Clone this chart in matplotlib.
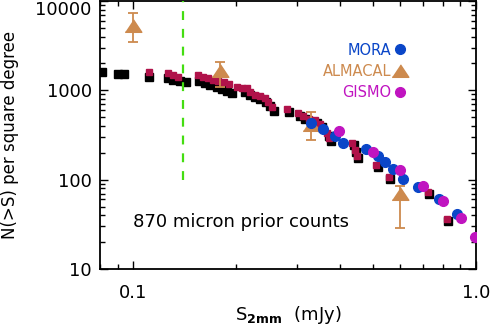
import numpy as np
import matplotlib
matplotlib.use('Agg')
import matplotlib.pyplot as plt
from matplotlib.ticker import LogLocator, NullFormatter

plt.rcParams['font.family'] = ['DejaVu Sans']
plt.rcParams['mathtext.fontset'] = 'dejavusans'

# 870 micron prior counts (black under, crimson on top)
black_s = [0.081, 0.090, 0.094, 0.111, 0.126, 0.131, 0.137, 0.143, 0.156, 0.162,
           0.168, 0.175, 0.181, 0.188, 0.194, 0.212, 0.219, 0.227, 0.235, 0.244,
           0.251, 0.258, 0.285, 0.307, 0.317, 0.330, 0.344, 0.356, 0.373, 0.378,
           0.440, 0.448, 0.454, 0.516, 0.563, 0.731, 0.830]
black_n = [1591, 1511, 1511, 1398, 1363, 1294, 1261, 1229, 1261, 1198,
           1138, 1080, 1026, 974, 926, 950, 879, 835, 793, 734,
           662, 582, 567, 511, 473, 438, 427, 385, 305, 268,
           245, 204, 177, 139, 101, 69, 34.5]
red_s = [0.111, 0.126, 0.131, 0.135, 0.155, 0.160, 0.165, 0.171, 0.177, 0.184,
         0.190, 0.201, 0.208, 0.215, 0.219, 0.227, 0.235, 0.243, 0.248, 0.254,
         0.281, 0.303, 0.313, 0.326, 0.339, 0.351, 0.368, 0.373, 0.435, 0.444,
         0.450, 0.511, 0.558, 0.725, 0.823]
red_n = [1591, 1550, 1472, 1398, 1472, 1398, 1363, 1294, 1261, 1229,
         1167, 1080, 1053, 1053, 950, 879, 857, 814, 734, 645,
         613, 553, 511, 473, 461, 416, 330, 290, 255, 213,
         182, 145, 106, 72, 35.9]

# MORA
mora_s = [0.330, 0.358, 0.388, 0.410, 0.478, 0.518, 0.543, 0.573, 0.613, 0.678, 0.780, 0.881]
mora_n = [427, 366, 305, 255, 218, 182, 156, 130, 103, 82, 60, 40.9]

# GISMO
gismo_s = [0.399, 0.501, 0.600, 0.701, 0.802, 0.904, 0.993]
gismo_n = [347, 202, 127, 86, 57, 36.9, 22.6]

# ALMACAL with error bars
alma_s = [0.100, 0.179, 0.330, 0.600]
alma_n = [5200, 1633, 405, 70]
alma_lo = [3440, 1080, 275, 28.5]
alma_hi = [7280, 2060, 567, 84]

c_red = '#b0124a'
c_mora = '#0a46c8'
c_alma = '#cd8a4e'
c_gismo = '#c014c0'
c_green = '#44dd11'

tri = [(-1, -0.7), (1, -0.7), (0, 0.8)]

fig = plt.figure(figsize=(4.91, 3.32), dpi=100)
ax = fig.add_axes([100/491, 1 - 269/332, 376/491, 268/332])
ax.set_xscale('log')
ax.set_yscale('log')
ax.set_xlim(0.08, 1.0)
ax.set_ylim(10, 10000)

ax.plot(black_s, black_n, ls='none', marker='s', ms=6.4, color='black', mec='black', zorder=2)
ax.plot(red_s, red_n, ls='none', marker='s', ms=4.9, color=c_red, mec=c_red, zorder=3)

ax.axvline(0.14, ymin=(np.log10(100) - 1) / 3, ymax=1, color=c_green, lw=1.6,
           dashes=(4, 4), zorder=4)

err = [np.array(alma_n) - np.array(alma_lo), np.array(alma_hi) - np.array(alma_n)]
ax.errorbar(alma_s, alma_n, yerr=err, fmt='none', ecolor=c_alma, elinewidth=1.3,
            capsize=3.5, capthick=1.3, zorder=4)
h_alma, = ax.plot(alma_s, alma_n, ls='none', marker=tri, ms=12, color=c_alma, zorder=5)
h_mora, = ax.plot(mora_s, mora_n, ls='none', marker='o', ms=7, color=c_mora, zorder=6)
h_gismo, = ax.plot(gismo_s, gismo_n, ls='none', marker='o', ms=7, color=c_gismo, zorder=7)

ax.legend([h_mora, h_alma, h_gismo], ['MORA', 'ALMACAL', 'GISMO'],
          loc='upper right', bbox_to_anchor=(0.817, 0.845), borderaxespad=0,
          borderpad=0, frameon=False, markerfirst=False, handlelength=1.0,
          handletextpad=0.1, labelspacing=0.42, fontsize=10.5,
          labelcolor=[c_mora, c_alma, c_gismo], numpoints=1)

ax.text(0.1, 34, '870 micron prior counts', fontsize=13, va='center', ha='left')

ax.set_xticks([0.1, 1.0])
ax.set_xticklabels(['0.1', '1.0'])
ax.xaxis.set_minor_locator(LogLocator(base=10, subs=np.arange(2, 10)))
ax.xaxis.set_minor_formatter(NullFormatter())
ax.set_yticks([10, 100, 1000, 10000])
ax.set_yticklabels(['10', '100', '1000', '10000'])
ax.yaxis.set_minor_locator(LogLocator(base=10, subs=np.arange(2, 10)))
ax.yaxis.set_minor_formatter(NullFormatter())
ax.get_yticklabels()[-1].set_va('top')

ax.tick_params(which='both', direction='in', top=True, right=True, width=1.0)
ax.tick_params(which='major', length=6)
ax.tick_params(which='minor', length=3.5)
ax.tick_params(axis='x', which='major', pad=11, labelsize=13)
ax.tick_params(axis='y', which='major', pad=6, labelsize=13)
for sp in ax.spines.values():
    sp.set_linewidth(1.3)

ax.set_xlabel(r'S$_{\mathbf{2mm}}$  (mJy)', fontsize=13)
ax.xaxis.set_label_coords(0.5, -0.13)
ax.set_ylabel('N(>S) per square degree', fontsize=12)
ax.yaxis.set_label_coords(-0.215, 0.5)

fig.savefig('out.png', dpi=100)
